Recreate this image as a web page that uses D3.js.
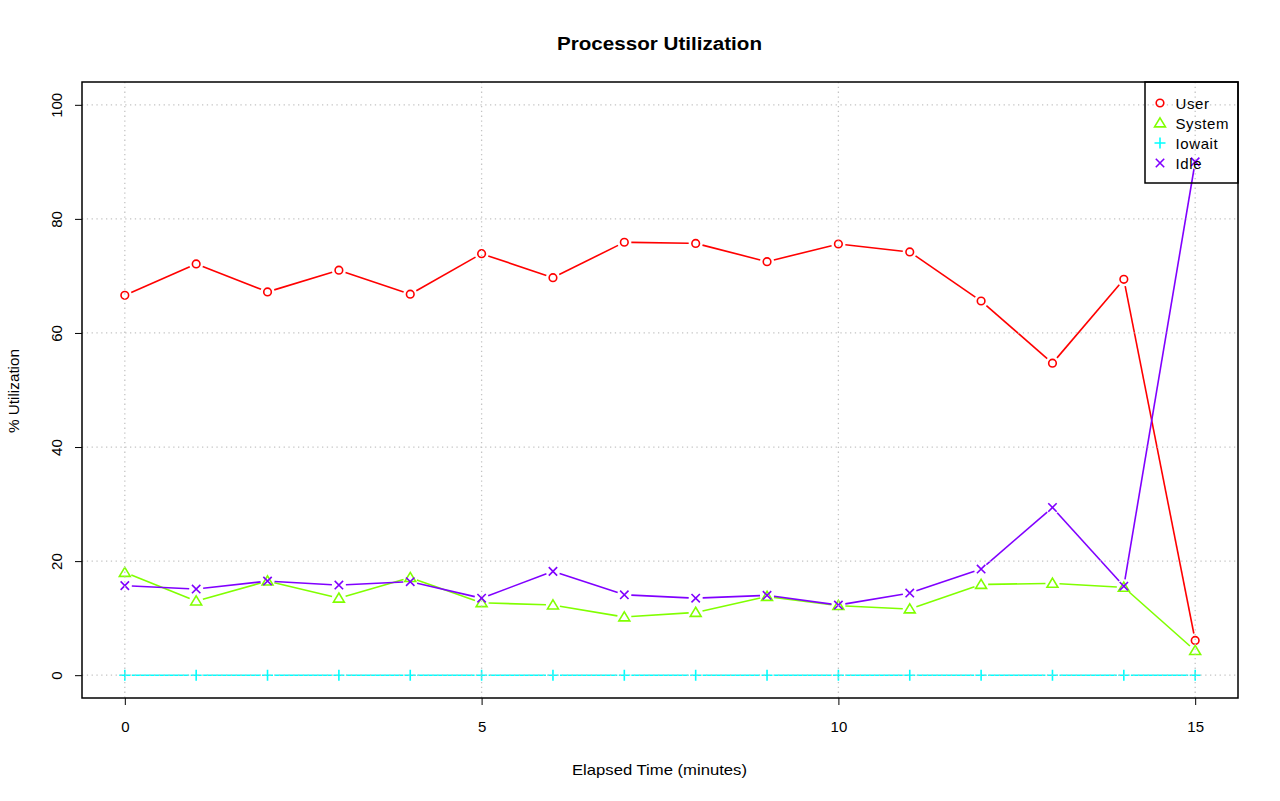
<!DOCTYPE html>
<html><head><meta charset="utf-8">
<script src="https://cdn.jsdelivr.net/npm/d3@7"></script>
<style>body{margin:0;background:#fff;}svg{display:block;font-family:"Liberation Sans",Arial,sans-serif;}</style>
</head><body>
<svg id="c" width="1280" height="801"></svg>
<script>
const minutes = [0,1,2,3,4,5,6,7,8,9,10,11,12,13,14,15];
const userVals   = [66.6,72.1,67.2,71.0,66.8,73.9,69.7,75.9,75.7,72.5,75.6,74.2,65.6,54.7,69.4,6.1];
const systemVals = [18.0,13.0,16.5,13.5,17.1,12.7,12.3,10.2,11.0,13.8,12.2,11.6,15.9,16.1,15.4,4.3];
const iowaitVals = [0,0,0,0,0,0,0,0,0,0,0,0,0,0,0,0];
const idleVals   = [15.7,15.1,16.5,15.8,16.4,13.5,18.2,14.1,13.5,14.0,12.3,14.4,18.6,29.4,15.6,90.0];
const xTicks = [0,5,10,15];
const yTicks = [0,20,40,60,80,100];
const seriesNames = ["User","System","Iowait","Idle"];
const seriesColors = ["#FF0000","#80FF00","#00FFFF","#8000FF"];
const seriesShapes = ["circle","triangle","plus","cross"];
const seriesVals = [userVals, systemVals, iowaitVals, idleVals];

const svg = d3.select("#c");
const L=82, R=1238, T=82, B=698;
const x = d3.scaleLinear().domain([-0.6,15.6]).range([L,R]);
const y = d3.scaleLinear().domain([-4,104]).range([B,T]);

function marker(g, shape, cx, cy, color){
  const s=4.2;
  if(shape==="circle"){
    g.append("circle").attr("cx",cx).attr("cy",cy).attr("r",3.8).attr("fill","none").attr("stroke",color).attr("stroke-width",1.6);
  } else if(shape==="triangle"){
    const h=5.2;
    g.append("path").attr("d",`M${cx},${cy-h}L${cx+h*1.05},${cy+h*0.75}L${cx-h*1.05},${cy+h*0.75}Z`).attr("fill","none").attr("stroke",color).attr("stroke-width",1.6);
  } else if(shape==="plus"){
    g.append("path").attr("d",`M${cx-5.5},${cy}H${cx+5.5}M${cx},${cy-5.5}V${cy+5.5}`).attr("stroke",color).attr("stroke-width",1.6);
  } else {
    g.append("path").attr("d",`M${cx-s},${cy-s}L${cx+s},${cy+s}M${cx-s},${cy+s}L${cx+s},${cy-s}`).attr("stroke",color).attr("stroke-width",1.6);
  }
}

// series (type "b": lines with gaps around points)
const gap = 7;
seriesVals.forEach((vals,si)=>{
  const g = svg.append("g");
  const col = seriesColors[si];
  for(let i=0;i<vals.length-1;i++){
    const x1=x(minutes[i]), y1=y(vals[i]), x2=x(minutes[i+1]), y2=y(vals[i+1]);
    const dx=x2-x1, dy=y2-y1, len=Math.hypot(dx,dy);
    if(len<=2*gap) continue;
    const ux=dx/len, uy=dy/len;
    g.append("line").attr("x1",x1+ux*gap).attr("y1",y1+uy*gap).attr("x2",x2-ux*gap).attr("y2",y2-uy*gap)
      .attr("stroke",col).attr("stroke-width",1.6);
  }
  vals.forEach((v,i)=>marker(g, seriesShapes[si], x(minutes[i]), y(v), col));
});

// grid (drawn on top, dotted light gray)
const grid = svg.append("g").attr("stroke","#c4c4c4").attr("stroke-width",1.3).attr("stroke-dasharray","1.3,3.5");
xTicks.forEach(t=>grid.append("line").attr("x1",x(t)).attr("x2",x(t)).attr("y1",T).attr("y2",B));
yTicks.forEach(t=>grid.append("line").attr("y1",y(t)).attr("y2",y(t)).attr("x1",L).attr("x2",R));

// axes
const xAxis = d3.axisBottom(x).tickValues(xTicks).tickSize(7).tickPadding(23).tickFormat(d3.format("d"));
const gx = svg.append("g").attr("transform",`translate(0,${B})`).call(xAxis);
gx.select(".domain").attr("stroke","none");
gx.selectAll("line").attr("stroke","#000");
gx.selectAll("text").attr("font-size",15).attr("font-family","Liberation Sans, Arial, sans-serif").attr("fill","#000").attr("dy","0.25em");

const yAxis = d3.axisLeft(y).tickValues(yTicks).tickSize(7).tickFormat(d3.format("d"));
const gy = svg.append("g").attr("transform",`translate(${L},0)`).call(yAxis);
gy.select(".domain").attr("stroke","none");
gy.selectAll("line").attr("stroke","#000");
gy.selectAll("text").attr("font-size",15).attr("font-family","Liberation Sans, Arial, sans-serif").attr("fill","#000")
  .attr("x",0).attr("dy",0).attr("text-anchor","middle")
  .attr("transform","translate(-20,0) rotate(-90)");

// box
svg.append("rect").attr("x",L).attr("y",T).attr("width",R-L).attr("height",B-T).attr("fill","none").attr("stroke","#000").attr("stroke-width",1.5);

// titles
svg.append("text").attr("x",659.5).attr("y",50).attr("text-anchor","middle").attr("font-size",17.5).attr("font-weight","bold")
  .attr("textLength",205).attr("lengthAdjust","spacingAndGlyphs").text("Processor Utilization");
svg.append("text").attr("x",659.5).attr("y",775).attr("text-anchor","middle").attr("font-size",15)
  .attr("textLength",175).attr("lengthAdjust","spacingAndGlyphs").text("Elapsed Time (minutes)");
svg.append("text").attr("transform",`translate(19,${391}) rotate(-90)`).attr("text-anchor","middle").attr("font-size",15)
  .attr("textLength",84).attr("lengthAdjust","spacingAndGlyphs").text("% Utilization");

// legend
const lg = svg.append("g");
lg.append("rect").attr("x",1145).attr("y",T).attr("width",R-1145).attr("height",101).attr("fill","none").attr("stroke","#000").attr("stroke-width",1.5);
seriesNames.forEach((n,i)=>{
  const cy = 103 + i*20;
  marker(lg, seriesShapes[i], 1160, cy, seriesColors[i]);
  lg.append("text").attr("x",1175.5).attr("y",cy+5.5).attr("font-size",15).attr("letter-spacing",0.6).text(n);
});
</script>
</body></html>
